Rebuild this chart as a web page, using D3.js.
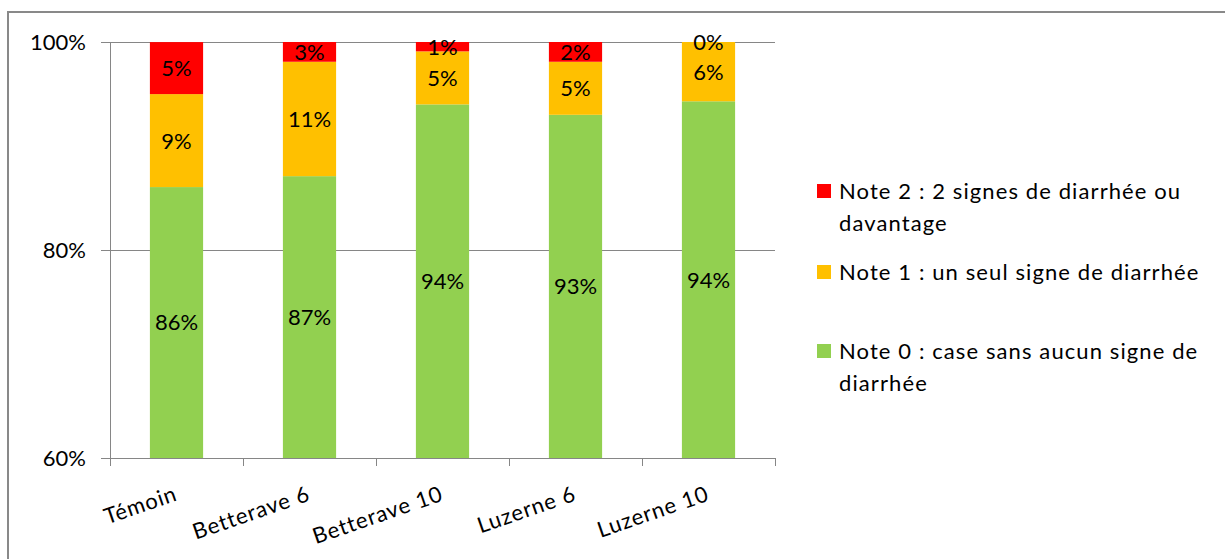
<!DOCTYPE html>
<html><head><meta charset="utf-8">
<script src="https://cdn.jsdelivr.net/npm/d3@7"></script>
<style>body{margin:0;background:#fff}svg{display:block}text{font-family:Lato,"Noto Sans",sans-serif}</style>
</head><body><svg id="c" width="1225" height="559"></svg>
<script>
const categories = ["Témoin","Betterave 6","Betterave 10","Luzerne 6","Luzerne 10"];
const note0 = [86.05, 87.1, 94.0, 93.0, 94.3];
const note1 = [8.94, 11.0, 5.1, 5.1, 5.7];
const note2 = [5.0, 2.6, 0.9, 1.9, 0.0];
const seriesNames = ["Note 0 : case sans aucun signe de diarrhée","Note 1 : un seul signe de diarrhée","Note 2 : 2 signes de diarrhée ou davantage"];
const legendLines = [["Note 2 : 2 signes de diarrhée ou","davantage"],["Note 1 : un seul signe de diarrhée"],["Note 0 : case sans aucun signe de","diarrhée"]];
const colors = ["#92D050","#FFC000","#FF0000"];
const yTicks = [60,80,100];

const svg = d3.select("#c");
// outer frame
svg.append("rect").attr("x",8).attr("y",12).attr("width",1240).attr("height",560)
  .attr("fill","none").attr("stroke","#898989").attr("stroke-width",2);

const L=110,R=775,T=42,B=458;
const x = d3.scaleBand().domain(categories).range([L,R]).paddingInner(0.6).paddingOuter(0.3);
const xb = d3.scaleBand().domain(categories).range([L,R]);
const y = d3.scaleLinear().domain([60,100]).range([B,T]).clamp(true);

const g = svg.append("g");
// gridlines
g.selectAll(".grid").data(yTicks.filter(d=>d>60)).join("line")
  .attr("x1",L-9).attr("x2",R).attr("y1",d=>y(d)).attr("y2",d=>y(d))
  .attr("stroke","#868686").attr("stroke-width",1).attr("shape-rendering","crispEdges");
// y axis
g.append("line").attr("x1",L).attr("x2",L).attr("y1",T).attr("y2",B+8).attr("stroke","#868686").attr("shape-rendering","crispEdges");
g.append("line").attr("x1",L-9).attr("x2",L).attr("y1",B).attr("y2",B).attr("stroke","#868686").attr("shape-rendering","crispEdges");
g.selectAll(".yl").data(yTicks).join("text").attr("x",86).attr("y",d=>y(d)).attr("dy","0.36em")
  .attr("text-anchor","end").attr("font-size",22).attr("fill","#000").text(d=>d+"%");

// stacked bars
const series = [note0,note1,note2];
categories.forEach((c,i)=>{
  let base=0;
  series.forEach((s,k)=>{
    const v=s[i], y0=y(base), y1=y(base+v);
    g.append("rect").attr("x",x(c)).attr("width",x.bandwidth()).attr("y",y1).attr("height",Math.max(0,y0-y1)).attr("fill",colors[k]);
    base+=v;
  });
});
// labels
categories.forEach((c,i)=>{
  let base=0;
  series.forEach((s,k)=>{
    const v=s[i], y0=y(base), y1=y(base+v);
    g.append("text").attr("x",x(c)+x.bandwidth()/2).attr("y",(y0+y1)/2).attr("dy","0.36em")
      .attr("text-anchor","middle").attr("font-size",22).attr("fill","#000").text(Math.round(v)+"%");
    base+=v;
  });
});

// x axis
g.append("line").attr("x1",L).attr("x2",R).attr("y1",B).attr("y2",B).attr("stroke","#868686").attr("shape-rendering","crispEdges");
const bounds = categories.map(c=>xb(c)+xb.bandwidth());
g.selectAll(".xt").data(bounds).join("line").attr("x1",d=>Math.round(d)+0.5).attr("x2",d=>Math.round(d)+0.5).attr("y1",B).attr("y2",B+8).attr("stroke","#868686");
g.selectAll(".xl").data(categories).join("text")
  .attr("transform",d=>`translate(${xb(d)+xb.bandwidth()/2+2},500) rotate(-19)`)
  .attr("text-anchor","end").attr("font-size",22).attr("letter-spacing","0.9px").attr("fill","#000").text(d=>d);

// legend
const legY=[191,272,351];
legendLines.forEach((lines,k)=>{
  const col = colors[2-k];
  svg.append("rect").attr("x",817).attr("y",legY[k]-7).attr("width",14).attr("height",14).attr("fill",col);
  lines.forEach((t,j)=>{
    svg.append("text").attr("x",839).attr("y",legY[k]+8+j*32).attr("font-size",22).attr("letter-spacing","1.1px").attr("fill","#000").text(t);
  });
});
</script></body></html>
